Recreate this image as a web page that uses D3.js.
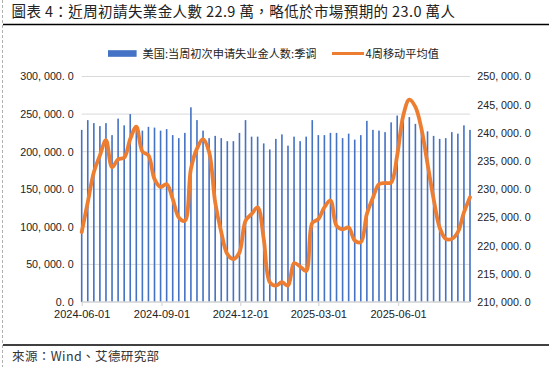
<!DOCTYPE html>
<html>
<head>
<meta charset="utf-8">
<script src="https://cdn.jsdelivr.net/npm/d3@7"></script>
<style>
  html, body { margin: 0; padding: 0; background: #fff; }
  svg { display: block; }
</style>
</head>
<body>
<div id="chart"></div>
<script>
// ---------- data ----------
const startDate = "2024-06-01";   // first weekly observation (Saturday)
const claims = [ // 美国:当周初次申请失业金人数:季调 (thousands)
  229, 242, 238, 234, 238, 222, 244, 235, 250, 233,
  228, 233, 232, 228, 230, 222, 218, 225, 259, 242,
  228, 218, 221, 218, 214, 214, 225, 242, 220, 220,
  211, 203, 217, 223, 208, 220, 214, 220, 242, 222,
  222, 225, 225, 218, 224, 216, 222, 241, 229, 228,
  226, 239, 248, 249, 246, 237, 228, 227, 221, 217,
  218, 226, 224, 235, 229
];
const avg4w = [ // 4周移动平均值 (thousands)
  222.4, 227.7, 233.0, 236.0, 238.7, 233.9, 235.3, 235.6, 238.9, 241.1,
  236.7, 236.0, 231.8, 230.4, 230.9, 228.3, 225.0, 224.4, 233.6, 237.2,
  238.9, 236.6, 227.7, 222.4, 218.5, 217.6, 218.8, 224.4, 225.6, 226.8,
  221.2, 213.5, 212.9, 213.5, 212.9, 216.9, 216.3, 215.5, 224.0, 224.7,
  226.8, 228.0, 223.5, 222.9, 223.2, 220.9, 220.6, 225.6, 228.5, 230.9,
  231.1, 231.2, 236.0, 243.1, 245.9, 244.6, 240.7, 234.5, 228.3, 223.2,
  221.2, 221.2, 222.4, 225.9, 228.6
];
const xTickLabels = ["2024-06-01", "2024-09-01", "2024-12-01", "2025-03-01", "2025-06-01"];
const leftTicks = [0, 50000, 100000, 150000, 200000, 250000, 300000];
const rightTicks = [210000, 215000, 220000, 225000, 230000, 235000, 240000, 245000, 250000];
const seriesNames = ["美国:当周初次申请失业金人数:季调", "4周移动平均值"];
const titleText = "圖表 4：近周初請失業金人數 22.9 萬，略低於市場預期的 23.0 萬人";
const sourceText = "來源：Wind、艾德研究部";

// ---------- setup ----------
const W = 549, H = 367;
const BLUE = "#4472C4", ORANGE = "#ED7D31", GRID = "#D9D9D9";
const parse = d3.utcParse("%Y-%m-%d");
const d0 = parse(startDate);
const dates = claims.map((_, i) => d3.utcDay.offset(d0, 7 * i));
const rows = dates.map((d, i) => ({ date: d, claims: claims[i] * 1000, avg: avg4w[i] * 1000 }));

const plot = { left: 81.7, right: 470, top: 76.5, bottom: 302 };

const x = d3.scaleUtc().domain([dates[0], dates[dates.length - 1]]).range([plot.left, plot.right]);
const yL = d3.scaleLinear().domain([0, 300000]).range([plot.bottom, plot.top]);
const yR = d3.scaleLinear().domain([210000, 250000]).range([plot.bottom, plot.top]);

const svg = d3.select("#chart").append("svg").attr("width", W).attr("height", H);
svg.append("rect").attr("width", W).attr("height", H).attr("fill", "#fff");

const cjk = "'Noto Sans CJK TC', 'Noto Sans CJK SC', sans-serif";
const cjkSC = "'Noto Sans CJK SC', 'Noto Sans CJK TC', sans-serif";
const latin = "'Liberation Sans', Arial, sans-serif";

// frame decorations
svg.append("line").attr("x1", 2.5).attr("x2", 2.5).attr("y1", 0).attr("y2", H)
  .attr("stroke", "#B0B0B0").attr("stroke-width", 1).attr("stroke-dasharray", "3,2");
svg.append("text").attr("x", 11.5).attr("y", 16.8)
  .attr("font-family", cjk).attr("font-size", 14.5).attr("fill", "#222")
  .attr("letter-spacing", 0.4)
  .style("white-space", "pre").text(titleText);
svg.append("line").attr("x1", 3).attr("x2", W).attr("y1", 24.5).attr("y2", 24.5)
  .attr("stroke", "#000").attr("stroke-width", 1.5);
svg.append("line").attr("x1", 3).attr("x2", W).attr("y1", 345).attr("y2", 345)
  .attr("stroke", "#000").attr("stroke-width", 1.5);
svg.append("text").attr("x", 12).attr("y", 361.2)
  .attr("font-family", cjk).attr("font-size", 12.5).attr("fill", "#333")
  .attr("letter-spacing", 0.4)
  .text(sourceText);

// grid
const g = svg.append("g");
g.selectAll("line.grid").data(leftTicks).join("line")
  .attr("x1", plot.left).attr("x2", plot.right)
  .attr("y1", d => yL(d)).attr("y2", d => yL(d))
  .attr("stroke", GRID).attr("stroke-width", 1);

// axes
const fmt = v => d3.format(",.1f")(v).replace(",", ", ").replace(".", ". ");
const axL = d3.axisLeft(yL).tickValues(leftTicks).tickFormat(fmt).tickSize(0).tickPadding(8);
const axR = d3.axisRight(yR).tickValues(rightTicks).tickFormat(fmt).tickSize(0).tickPadding(7.3);
const gl = svg.append("g").attr("transform", `translate(${plot.left},0)`).call(axL);
const gr = svg.append("g").attr("transform", `translate(${plot.right},0)`).call(axR);
[gl, gr].forEach(a => {
  a.select(".domain").remove();
  a.selectAll("text").attr("font-family", latin).attr("font-size", 10.7).attr("fill", "#222");
});

// bars
const bw = 1.6;
svg.append("g").selectAll("rect").data(rows).join("rect")
  .attr("x", d => x(d.date) - bw / 2)
  .attr("width", bw)
  .attr("y", d => yL(d.claims))
  .attr("height", d => yL(0) - yL(d.claims))
  .attr("fill", BLUE);

// x axis
const xTicks = xTickLabels.map(parse);
const axX = d3.axisBottom(x).tickValues(xTicks).tickFormat(d3.utcFormat("%Y-%m-%d"))
  .tickSize(4).tickPadding(4);
const gx = svg.append("g").attr("transform", `translate(0,${plot.bottom})`).call(axX);
gx.select(".domain").attr("stroke", GRID).attr("stroke-width", 1.3)
  .attr("d", `M${plot.left},0H${plot.right}`);
gx.selectAll(".tick line").attr("stroke", GRID).attr("stroke-width", 1.3);
gx.selectAll("text").attr("font-family", latin).attr("font-size", 11).attr("fill", "#222");

// line
const line = d3.line().x(d => x(d.date)).y(d => yR(d.avg)).curve(d3.curveCatmullRom.alpha(0.5));
svg.append("path").datum(rows).attr("d", line)
  .attr("fill", "none").attr("stroke", ORANGE).attr("stroke-width", 3.8)
  .attr("stroke-linejoin", "round").attr("stroke-linecap", "round");

// legend
const ly = 53.5;
const lg = svg.append("g").attr("font-family", cjkSC).attr("font-size", 11.2).attr("fill", "#222");
lg.append("rect").attr("x", 108).attr("y", ly - 3.3).attr("width", 28.6).attr("height", 6.6).attr("fill", BLUE);
lg.append("text").attr("x", 142.5).attr("y", ly + 4).text(seriesNames[0]);
lg.append("line").attr("x1", 332).attr("x2", 364).attr("y1", ly).attr("y2", ly)
  .attr("stroke", ORANGE).attr("stroke-width", 3);
lg.append("text").attr("x", 365.5).attr("y", ly + 4).text(seriesNames[1]);
</script>
</body>
</html>
